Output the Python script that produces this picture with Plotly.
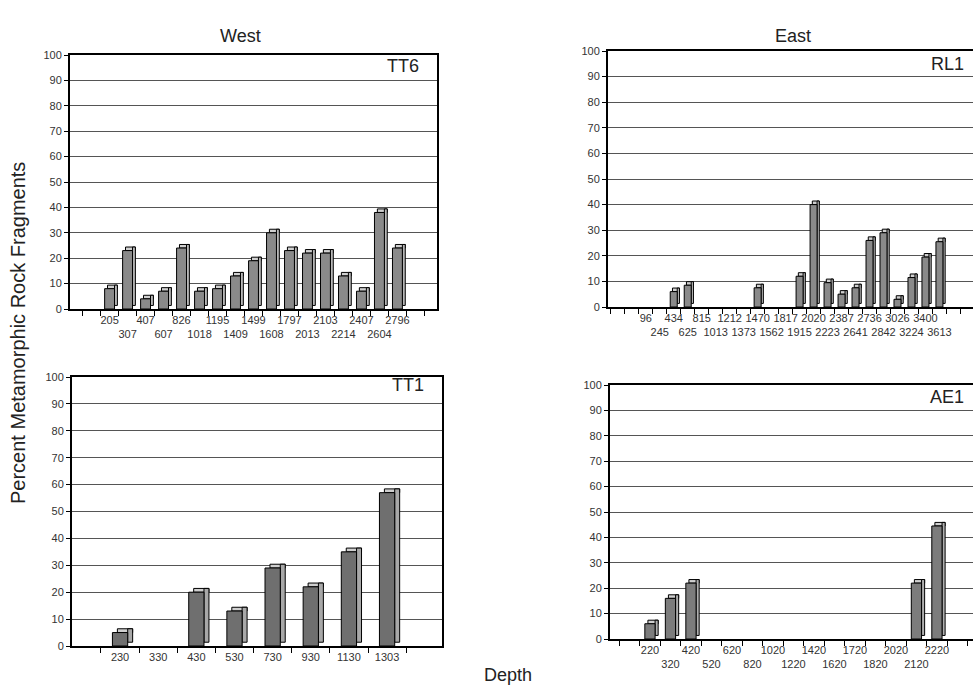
import plotly.graph_objects as go

# ---------------- data ----------------
tt6_depth = ["205", "307", "407", "607", "826", "1018", "1195", "1409", "1499",
             "1608", "1797", "2013", "2103", "2214", "2407", "2604", "2796"]
tt6_pct = [8, 23, 4, 7, 24, 7, 8, 13, 19, 30, 23, 22, 22, 13, 7, 38, 24]

rl1_depth = ["96", "245", "434", "625", "815", "1013", "1212", "1373", "1470", "1562",
             "1817", "1915", "2020", "2223", "2387", "2641", "2736", "2842", "3026",
             "3224", "3400", "3613"]
rl1_pct = [0, 0, 6, 8.5, 0, 0, 0, 0, 7.5, 0, 0, 12, 40, 9.5, 5, 7.5, 26, 29, 3,
           11.5, 19.5, 25.5]

tt1_depth = ["230", "330", "430", "530", "730", "930", "1130", "1303"]
tt1_pct = [5, 0, 20, 13, 29, 22, 35, 57]

ae1_depth = ["220", "320", "420", "520", "620", "820", "1020", "1220", "1420", "1620",
             "1720", "1820", "2020", "2120", "2220"]
ae1_pct = [6, 16, 22, 0, 0, 0, 0, 0, 0, 0, 0, 0, 0, 22, 44.5]

W, H = 973, 686
TICKFONT = dict(family="Liberation Sans, Arial, sans-serif", size=11, color="#333333")
TITLEFONT = dict(family="Liberation Sans, Arial, sans-serif", size=18, color="#222")

panels = [
    dict(name="TT6", d=tt6_depth, v=tt6_pct, px=(70, 437), py=(55, 309),
         xr=(-2.2, 18.2), w=0.55, sw=0.16, dy=1.4, two=True,
         lab=(403, 66), front="#8a8a8a", side="#b8b8b8", top="#d0d0d0"),
    dict(name="RL1", d=rl1_depth, v=rl1_pct, px=(608, 973), py=(51, 307),
         xr=(-2.7, 23.4), w=0.5, sw=0.16, dy=1.4, two=True,
         lab=(947, 64), front="#8a8a8a", side="#b8b8b8", top="#d0d0d0"),
    dict(name="TT1", d=tt1_depth, v=tt1_pct, px=(72, 442), py=(377, 646),
         xr=(-1.26, 8.44), w=0.4, sw=0.13, dy=1.4, two=False,
         lab=(408, 385), front="#6f6f6f", side="#a8a8a8", top="#cfcfcf"),
    dict(name="AE1", d=ae1_depth, v=ae1_pct, px=(610, 973), py=(385, 639),
         xr=(-1.95, 15.76), w=0.5, sw=0.15, dy=1.4, two=True,
         lab=(947, 397), front="#7c7c7c", side="#b0b0b0", top="#d0d0d0"),
]

fig = go.Figure()
layout = {}
annotations = []

for i, p in enumerate(panels, start=1):
    xa = "x" if i == 1 else f"x{i}"
    ya = "y" if i == 1 else f"y{i}"
    n = len(p["d"])
    idx = list(range(n))
    vals = [v if v > 0 else None for v in p["v"]]
    w, sw, dy = p["w"], p["sw"], p["dy"]
    line = dict(color="black", width=1)

    # top face
    fig.add_trace(go.Bar(x=idx, y=[dy if v else None for v in vals], base=vals,
                         width=w, offset=-w / 2 + sw, xaxis=xa, yaxis=ya,
                         marker=dict(color=p["top"], line=line), showlegend=False,
                         hoverinfo="skip"))
    # side face
    fig.add_trace(go.Bar(x=idx, y=vals, base=[dy if v else None for v in vals],
                         width=sw, offset=w / 2, xaxis=xa, yaxis=ya,
                         marker=dict(color=p["side"], line=line), showlegend=False,
                         hoverinfo="skip"))
    # front face
    fig.add_trace(go.Bar(x=idx, y=vals, width=w, offset=-w / 2, xaxis=xa, yaxis=ya,
                         marker=dict(color=p["front"], line=line), showlegend=False,
                         name=p["name"]))

    if p["two"]:
        ticktext = [t if k % 2 == 0 else "<br>" + t for k, t in enumerate(p["d"])]
    else:
        ticktext = list(p["d"])

    x0, x1 = p["px"]
    ytop, ybot = p["py"]
    layout["xaxis" if i == 1 else f"xaxis{i}"] = dict(
        domain=[x0 / W, min(1.0, x1 / W)], anchor=ya, range=list(p["xr"]),
        tickmode="array", tickvals=idx, ticktext=ticktext, ticks="",
        tickangle=0, automargin=False,
        tickfont=TICKFONT, showgrid=False, zeroline=False,
        showline=True, linecolor="black", linewidth=1.5, mirror=True,
        minor=dict(tickmode="linear", tick0=-0.5, dtick=1, ticks="outside",
                   ticklen=5, tickcolor="black", showgrid=False),
        fixedrange=True,
    )
    layout["yaxis" if i == 1 else f"yaxis{i}"] = dict(
        domain=[1 - ybot / H, 1 - ytop / H], anchor=xa, range=[0, 100],
        tickmode="linear", tick0=0, dtick=10, ticks="outside", ticklen=4,
        tickcolor="black", tickfont=TICKFONT, showgrid=True, gridcolor="#555555",
        gridwidth=1, zeroline=False, showline=True, linecolor="black",
        linewidth=2, mirror=True, fixedrange=True, automargin=False,
    )
    lx, ly = p["lab"]
    annotations.append(dict(text=p["name"], x=lx / W, y=1 - ly / H, xref="paper",
                            yref="paper", xanchor="center", yanchor="middle",
                            showarrow=False, font=dict(TITLEFONT, size=18)))

annotations += [
    dict(text="West", x=240 / W, y=1 - 36 / H, xref="paper", yref="paper",
         xanchor="center", yanchor="middle", showarrow=False, font=TITLEFONT),
    dict(text="East", x=793 / W, y=1 - 36 / H, xref="paper", yref="paper",
         xanchor="center", yanchor="middle", showarrow=False, font=TITLEFONT),
    dict(text="Percent Metamorphic Rock Fragments", x=18 / W, y=1 - 333 / H,
         xref="paper", yref="paper", xanchor="center", yanchor="middle",
         textangle=-90, showarrow=False, font=dict(TITLEFONT, size=20)),
    dict(text="Depth", x=508 / W, y=1 - 675 / H, xref="paper", yref="paper",
         xanchor="center", yanchor="middle", showarrow=False,
         font=dict(TITLEFONT, size=18)),
]

fig.update_layout(
    width=W, height=H, margin=dict(l=0, r=0, t=0, b=0),
    paper_bgcolor="white", plot_bgcolor="white", barmode="overlay",
    annotations=annotations, **layout,
)

fig.write_html(
    "out.html",
    config={"displayModeBar": False},
    post_script="document.body.style.margin='0';document.body.style.overflow='hidden';",
)
